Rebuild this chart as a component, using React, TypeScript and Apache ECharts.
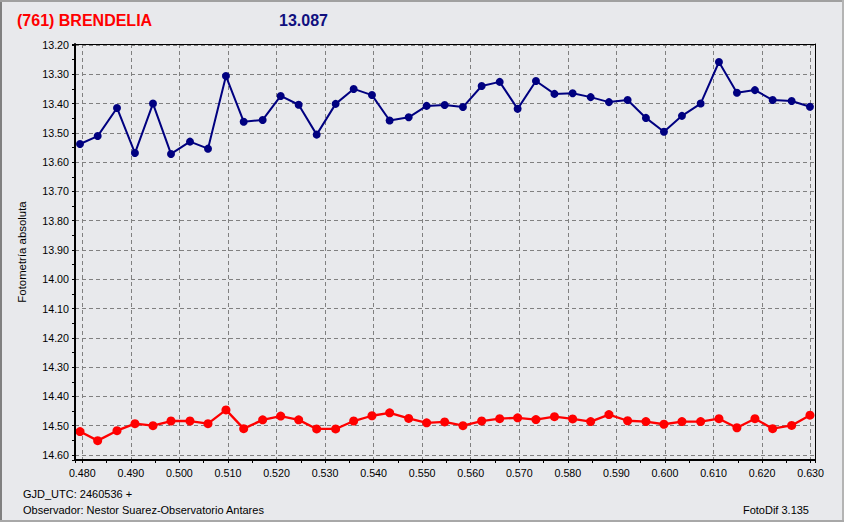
import React, { useEffect, useRef } from "react";
import * as echarts from "echarts";

const titleName = "(761) BRENDELIA";
const titleValue = "13.087";
const yAxisName = "Fotometría absoluta";
const footerDate = "GJD_UTC: 2460536 +";
const footerObserver = "Observador: Nestor Suarez-Observatorio Antares";
const footerSoftware = "FotoDif 3.135";

// fraction of day after GJD 2460536
const timeOffsets = [
  0.47953, 0.48317, 0.48715, 0.49085, 0.49456, 0.49827, 0.50218, 0.50589, 0.50959, 0.51324,
  0.51715, 0.52086, 0.52456, 0.52827, 0.53218, 0.53589, 0.53966, 0.5433, 0.54722, 0.55092,
  0.55463, 0.5584, 0.56225, 0.56596, 0.56966, 0.57343, 0.57724, 0.58099, 0.5847, 0.58846,
  0.59231, 0.59608, 0.59979, 0.6035, 0.60735, 0.61112, 0.61482, 0.61853, 0.62218, 0.62609,
  0.62986,
];

const asteroidMag = [
  13.538, 13.511, 13.415, 13.569, 13.4, 13.572, 13.53, 13.554, 13.306, 13.462,
  13.456, 13.374, 13.404, 13.506, 13.401, 13.35, 13.371, 13.458, 13.447, 13.408,
  13.405, 13.412, 13.34, 13.326, 13.418, 13.323, 13.367, 13.365, 13.378, 13.395,
  13.388, 13.449, 13.496, 13.442, 13.4, 13.258, 13.363, 13.354, 13.388, 13.391,
  13.411,
];

const comparisonMag = [
  14.52, 14.551, 14.517, 14.493, 14.5, 14.484, 14.484, 14.493, 14.446, 14.51,
  14.48, 14.467, 14.48, 14.511, 14.511, 14.484, 14.466, 14.456, 14.475, 14.49,
  14.487, 14.5, 14.484, 14.476, 14.473, 14.479, 14.469, 14.477, 14.486, 14.462,
  14.483, 14.486, 14.495, 14.486, 14.486, 14.476, 14.507, 14.476, 14.51, 14.499,
  14.464,
];

const X_MIN = 0.4785;
const X_MAX = 0.6309;
const Y_MIN = 13.1966;
const Y_MAX = 14.6171;

const BG = "#e8e9ec";
const LABEL_FONT = "Liberation Sans, Arial, sans-serif";

export default function App() {
  const ref = useRef<HTMLDivElement>(null);

  useEffect(() => {
    if (!ref.current) return;
    const chart = echarts.init(ref.current, undefined, { renderer: "svg" });

    const borderAxisX = (position: string, width: number) => ({
      type: "value",
      gridIndex: 0,
      position,
      min: X_MIN,
      max: X_MAX,
      z: 10,
      axisLine: { show: true, onZero: false, lineStyle: { color: "#000", width } },
      axisTick: { show: false },
      axisLabel: { show: false },
      splitLine: { show: false },
      minorTick: { show: false },
    });
    const borderAxisY = (position: string, width: number) => ({
      type: "value",
      gridIndex: 0,
      position,
      inverse: true,
      min: Y_MIN,
      max: Y_MAX,
      z: 10,
      axisLine: { show: true, onZero: false, lineStyle: { color: "#000", width } },
      axisTick: { show: false },
      axisLabel: { show: false },
      splitLine: { show: false },
      minorTick: { show: false },
    });

    const option: any = {
      animation: false,
      backgroundColor: BG,
      grid: {
        left: 75,
        top: 44,
        right: 29,
        bottom: 62,
        containLabel: false,
        outerBoundsMode: "none",
      },
      xAxis: [
        {
          type: "value",
          position: "bottom",
          min: X_MIN,
          max: X_MAX,
          splitNumber: 15,
          minInterval: 0.01,
          maxInterval: 0.01,
          axisLine: { show: false, onZero: false },
          axisTick: { show: true, inside: false, length: 3, lineStyle: { color: "#000", width: 1 } },
          minorTick: { show: true, splitNumber: 2, length: 3, lineStyle: { color: "#000", width: 1 } },
          axisLabel: {
            show: true,
            showMinLabel: false,
            showMaxLabel: false,
            margin: 7,
            color: "#000",
            fontFamily: LABEL_FONT,
            fontSize: 10.7,
            formatter: (v: number) => v.toFixed(3),
          },
          splitLine: { show: true, lineStyle: { color: "#808080", width: 1, type: [4, 3] } },
        },
        borderAxisX("bottom", 2),
        borderAxisX("top", 1),
      ],
      yAxis: [
        {
          type: "value",
          position: "left",
          inverse: true,
          min: Y_MIN,
          max: Y_MAX,
          splitNumber: 14,
          minInterval: 0.1,
          maxInterval: 0.1,
          name: yAxisName,
          nameLocation: "middle",
          nameGap: 48,
          nameRotate: 90,
          nameTextStyle: { color: "#000", fontFamily: LABEL_FONT, fontSize: 11.4 },
          axisLine: { show: false, onZero: false },
          axisTick: { show: true, inside: false, length: 3, lineStyle: { color: "#000", width: 1 } },
          minorTick: { show: true, splitNumber: 2, length: 3, lineStyle: { color: "#000", width: 1 } },
          axisLabel: {
            show: true,
            showMinLabel: false,
            showMaxLabel: false,
            margin: 6,
            color: "#000",
            fontFamily: LABEL_FONT,
            fontSize: 10.7,
            formatter: (v: number) => v.toFixed(2),
          },
          splitLine: { show: true, lineStyle: { color: "#808080", width: 1, type: [4, 3] } },
        },
        borderAxisY("left", 2),
        borderAxisY("right", 1),
      ],
      series: [
        {
          name: "Asteroide",
          type: "line",
          xAxisIndex: 0,
          yAxisIndex: 0,
          data: timeOffsets.map((t, i) => [t, asteroidMag[i]]),
          symbol: "circle",
          symbolSize: 8,
          lineStyle: { color: "#000080", width: 2 },
          itemStyle: { color: "#000080" },
          z: 5,
        },
        {
          name: "Comparación",
          type: "line",
          xAxisIndex: 0,
          yAxisIndex: 0,
          data: timeOffsets.map((t, i) => [t, comparisonMag[i]]),
          symbol: "circle",
          symbolSize: 9,
          lineStyle: { color: "#ff0000", width: 2.3 },
          itemStyle: { color: "#ff0000" },
          z: 5,
        },
      ],
      graphic: [
        {
          type: "text",
          x: 17,
          y: 20,
          style: {
            text: titleName,
            fill: "#ff0000",
            font: `bold 16px ${LABEL_FONT}`,
            textAlign: "left",
            textVerticalAlign: "middle",
            align: "left",
            verticalAlign: "middle",
          },
        },
        {
          type: "text",
          x: 279,
          y: 20,
          style: {
            text: titleValue,
            fill: "#10107f",
            font: `bold 16px ${LABEL_FONT}`,
            textAlign: "left",
            textVerticalAlign: "middle",
            align: "left",
            verticalAlign: "middle",
          },
        },
        {
          type: "text",
          x: 23,
          y: 494,
          style: {
            text: footerDate,
            fill: "#000",
            font: `11px ${LABEL_FONT}`,
            textAlign: "left",
            textVerticalAlign: "middle",
            align: "left",
            verticalAlign: "middle",
          },
        },
        {
          type: "text",
          x: 23,
          y: 510,
          style: {
            text: footerObserver,
            fill: "#000",
            font: `11px ${LABEL_FONT}`,
            textAlign: "left",
            textVerticalAlign: "middle",
            align: "left",
            verticalAlign: "middle",
          },
        },
        {
          type: "text",
          x: 809,
          y: 510,
          style: {
            text: footerSoftware,
            fill: "#000",
            font: `11px ${LABEL_FONT}`,
            textAlign: "right",
            textVerticalAlign: "middle",
            align: "right",
            verticalAlign: "middle",
          },
        },
        {
          type: "line",
          z: 100,
          shape: { x1: 1, y1: 0, x2: 1, y2: 522 },
          style: { stroke: "#808080", lineWidth: 2 },
        },
        {
          type: "line",
          z: 100,
          shape: { x1: 0, y1: 1, x2: 844, y2: 1 },
          style: { stroke: "#a0a0a0", lineWidth: 2 },
        },
        {
          type: "line",
          z: 100,
          shape: { x1: 843, y1: 0, x2: 843, y2: 522 },
          style: { stroke: "#b4b4b4", lineWidth: 2 },
        },
        {
          type: "line",
          z: 100,
          shape: { x1: 0, y1: 521, x2: 844, y2: 521 },
          style: { stroke: "#a8a8a8", lineWidth: 2 },
        },
      ],
    };

    chart.setOption(option);
    return () => {
      chart.dispose();
    };
  }, []);

  return (
    <div
      ref={ref}
      style={{ position: "absolute", left: 0, top: 0, width: 844, height: 522 }}
    />
  );
}
